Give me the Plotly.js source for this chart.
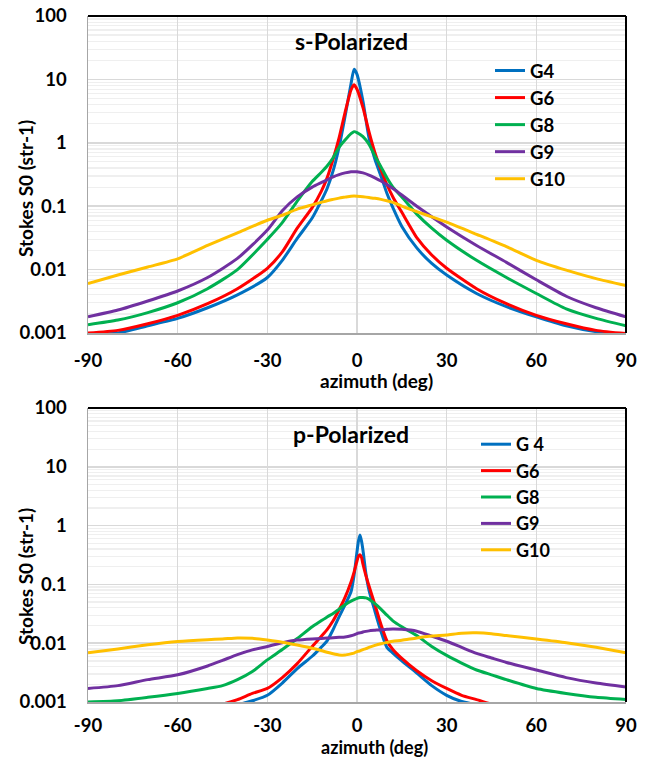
<!DOCTYPE html>
<html>
<head>
<meta charset="utf-8">
<script src="https://cdn.plot.ly/plotly-3.0.1.min.js"></script>
<style>
  html, body { margin: 0; padding: 0; background: #ffffff; }
  #chart { width: 645px; height: 758px; }
</style>
</head>
<body>
<div id="chart"></div>
<script>
// ---------- data: s-polarized (top panel) ----------
const sAzimuth = [-90,-80,-70,-60,-50,-40,-30,-25,-20,-15,-12,-10,-8,-6,-4,-2,-1,0,2,4,6,8,10,12,15,20,25,30,40,50,60,70,80,90];
const sG4  = [0.00095,0.0010,0.0013,0.0017,0.0025,0.0040,0.0075,0.014,0.031,0.065,0.12,0.19,0.36,0.85,2.6,8.5,14.4,12,4.5,1.2,0.55,0.3,0.16,0.095,0.048,0.022,0.0125,0.0082,0.0042,0.0026,0.0018,0.0013,0.00105,0.00095];
const sG6  = [0.001,0.0011,0.0014,0.0019,0.0029,0.0050,0.0105,0.019,0.045,0.095,0.17,0.28,0.55,1.2,3.0,6.8,8.2,7.0,3.6,1.5,0.7,0.38,0.22,0.14,0.08,0.032,0.017,0.0105,0.0050,0.0029,0.0019,0.0014,0.0011,0.00098];
const sG8  = [0.00135,0.0016,0.0021,0.0030,0.0050,0.010,0.030,0.055,0.12,0.245,0.34,0.43,0.58,0.85,1.11,1.4,1.5,1.45,1.25,0.95,0.62,0.42,0.28,0.2,0.14,0.075,0.045,0.029,0.014,0.0075,0.0042,0.0024,0.0017,0.0013];
const sG9  = [0.0018,0.0023,0.0032,0.0046,0.0075,0.015,0.042,0.085,0.14,0.2,0.235,0.26,0.29,0.315,0.335,0.35,0.35,0.35,0.335,0.31,0.28,0.25,0.22,0.19,0.15,0.1,0.068,0.047,0.024,0.013,0.0069,0.0038,0.0025,0.0018];
const sG10 = [0.0060,0.0082,0.011,0.0148,0.024,0.038,0.06,0.072,0.09,0.105,0.115,0.122,0.128,0.134,0.139,0.144,0.145,0.144,0.141,0.137,0.133,0.128,0.122,0.115,0.1,0.082,0.068,0.056,0.036,0.023,0.014,0.0098,0.0072,0.0056];

// ---------- data: p-polarized (bottom panel) ----------
const pAzimuth = [-90,-80,-70,-60,-50,-45,-40,-35,-30,-25,-20,-15,-12,-10,-8,-6,-4,-2,-1,0,0.5,1,1.5,2,3,4,6,8,10,12,15,20,25,30,35,40,45,50,60,70,80,90];
const pG4  = [0.0005,0.0005,0.0005,0.0006,0.0007,0.0008,0.0009,0.00105,0.0013,0.0021,0.0037,0.006,0.0085,0.011,0.017,0.028,0.045,0.075,0.14,0.36,0.55,0.69,0.55,0.38,0.15,0.08,0.035,0.016,0.0085,0.0068,0.005,0.0031,0.0019,0.0013,0.00102,0.0009,0.0008,0.0007,0.0006,0.0005,0.0005,0.0005];
const pG6  = [0.0006,0.0006,0.0006,0.0007,0.0008,0.00092,0.0011,0.0014,0.0017,0.0026,0.0045,0.0088,0.013,0.017,0.024,0.037,0.06,0.11,0.16,0.25,0.3,0.32,0.29,0.22,0.14,0.095,0.045,0.021,0.011,0.0078,0.0055,0.0034,0.0023,0.0017,0.0013,0.0011,0.00092,0.0008,0.0007,0.0006,0.0006,0.0006];
const pG8  = [0.001,0.00105,0.0012,0.0014,0.0017,0.0019,0.0024,0.0033,0.0052,0.0078,0.012,0.019,0.024,0.028,0.032,0.038,0.045,0.052,0.055,0.058,0.059,0.06,0.06,0.06,0.059,0.056,0.047,0.038,0.030,0.024,0.019,0.0135,0.0088,0.0062,0.0046,0.0035,0.0029,0.0024,0.0017,0.0014,0.0012,0.0011];
const pG9  = [0.0017,0.0019,0.0024,0.0029,0.0041,0.0051,0.0064,0.0077,0.0088,0.0102,0.0113,0.0118,0.012,0.0122,0.0124,0.0126,0.0128,0.0134,0.0139,0.0146,0.0149,0.015,0.0152,0.0155,0.0159,0.0162,0.0166,0.017,0.0172,0.0174,0.0172,0.016,0.0132,0.0108,0.0085,0.0067,0.0056,0.0047,0.0035,0.0026,0.0021,0.0018];
const pG10 = [0.0069,0.0080,0.0094,0.0107,0.0115,0.0118,0.0123,0.0121,0.0113,0.0104,0.0093,0.0082,0.0075,0.0070,0.0066,0.0063,0.0063,0.0066,0.0068,0.0072,0.0073,0.0074,0.0076,0.0078,0.0081,0.0085,0.0092,0.0098,0.0103,0.0108,0.0112,0.0123,0.0132,0.0138,0.0148,0.015,0.0145,0.0135,0.0118,0.0102,0.0085,0.0069];

// ---------- labels ----------
const sNames = ["G4","G6","G8","G9","G10"];
const pNames = ["G 4","G6","G8","G9","G10"];
const seriesColors = ["#0070C0","#FF0000","#00B050","#7030A0","#FFC000"];
const xTickVals = [-90,-60,-30,0,30,60,90];
const xTickText = ["-90","-60","-30","0","30","60","90"];
const yTickVals = [0.001,0.01,0.1,1,10,100];
const yTickText = ["0.001","0.01","0.1","1","10","100"];
const panelTitles = ["s-Polarized","p-Polarized"];
const xTitle = "azimuth (deg)";
const yTitle = "Stokes S0 (str-1)";

// minor (2..9) gridline positions for the log axes
const yMinor = [];
for (let e = -3; e < 2; e++) for (let k = 2; k <= 9; k++) yMinor.push(k * Math.pow(10, e));

const FONT = "Lato, 'Open Sans', sans-serif";
const sY = [sG4, sG6, sG8, sG9, sG10];
const pY = [pG4, pG6, pG8, pG9, pG10];

const traces = [];
sY.forEach((ys, i) => traces.push({
  type: "scatter", mode: "lines", x: sAzimuth, y: ys, name: sNames[i],
  xaxis: "x", yaxis: "y", legend: "legend", legendgroup: "s" + i,
  line: { color: seriesColors[i], width: 3, shape: "spline", smoothing: 0.6 }
}));
pY.forEach((ys, i) => traces.push({
  type: "scatter", mode: "lines", x: pAzimuth, y: ys, name: pNames[i],
  xaxis: "x2", yaxis: "y2", legend: "legend2", legendgroup: "p" + i,
  line: { color: seriesColors[i], width: 3, shape: "spline", smoothing: 0.6 }
}));

const W = 645, H = 758;
const xDom = [88 / W, 626 / W];
const topDom = [1 - 333 / H, 1 - 16 / H];
const botDom = [1 - 702 / H, 1 - 408 / H];

const tickFont = { family: FONT, size: 18.5, color: "#000000", weight: 700 };

function xAxis(anchor, standoff) {
  return {
    domain: xDom, anchor: anchor, range: [-90, 90],
    tickmode: "array", tickvals: xTickVals, ticktext: xTickText,
    showgrid: true, gridcolor: "#d9d9d9", gridwidth: 1.5,
    zeroline: false, showline: true, linecolor: "#a6a6a6", linewidth: 1.5,
    ticks: "", ticklabelstandoff: standoff, tickfont: tickFont, fixedrange: true
  };
}
function yAxis(anchor, dom) {
  return {
    domain: dom, anchor: anchor, type: "log", range: [-3, 2],
    tickmode: "array", tickvals: yTickVals, ticktext: yTickText,
    showgrid: true, gridcolor: "#d9d9d9", gridwidth: 1.5,
    minor: { tickmode: "array", tickvals: yMinor, showgrid: true, gridcolor: "#efefef", gridwidth: 1.2, ticks: "" },
    zeroline: false, showline: true, linecolor: "#a6a6a6", linewidth: 1.5,
    ticks: "", ticklabelstandoff: 16, tickfont: tickFont, fixedrange: true
  };
}

const legendCommon = {
  bgcolor: "rgba(0,0,0,0)", borderwidth: 0,
  xanchor: "left", yanchor: "top", traceorder: "normal"
};

const annFont = { family: FONT, size: 19, color: "#000000", weight: 700 };
const annFontSmall = { family: FONT, size: 18, color: "#000000", weight: 700 };
const titleFont = { family: FONT, size: 23, color: "#000000", weight: 700 };
const annotations = [
  { text: panelTitles[0], xref: "paper", yref: "paper", x: 351 / W, y: 1 - 41 / H, showarrow: false, xanchor: "center", yanchor: "middle", font: titleFont },
  { text: panelTitles[1], xref: "paper", yref: "paper", x: 351 / W, y: 1 - 434 / H, showarrow: false, xanchor: "center", yanchor: "middle", font: titleFont },
  { text: xTitle, xref: "paper", yref: "paper", x: 377 / W, y: 1 - 380 / H, showarrow: false, xanchor: "center", yanchor: "middle", font: annFont },
  { text: xTitle, xref: "paper", yref: "paper", x: 374 / W, y: 1 - 746.5 / H, showarrow: false, xanchor: "center", yanchor: "middle", font: annFontSmall },
  { text: yTitle, xref: "paper", yref: "paper", x: 25 / W, y: 1 - 189 / H, showarrow: false, xanchor: "center", yanchor: "middle", textangle: -90, font: annFont },
  { text: yTitle, xref: "paper", yref: "paper", x: 25 / W, y: 1 - 577 / H, showarrow: false, xanchor: "center", yanchor: "middle", textangle: -90, font: annFont }
];

function frame(dom) {
  return [
    { type: "line", xref: "paper", yref: "paper", x0: xDom[0], x1: xDom[1], y0: dom[1], y1: dom[1], line: { color: "#000000", width: 2 }, layer: "above" },
    { type: "line", xref: "paper", yref: "paper", x0: xDom[1], x1: xDom[1], y0: dom[0], y1: dom[1], line: { color: "#000000", width: 2 }, layer: "above" }
  ];
}

const layout = {
  width: W, height: H,
  margin: { l: 0, r: 0, t: 0, b: 0, pad: 0 },
  paper_bgcolor: "#ffffff", plot_bgcolor: "#ffffff",
  showlegend: true,
  xaxis: xAxis("y", 10), yaxis: yAxis("x", topDom),
  xaxis2: xAxis("y2", 6), yaxis2: yAxis("x2", botDom),
  legend: Object.assign({}, legendCommon, {
    x: 490 / W, y: 1 - 52 / H, tracegroupgap: 3,
    font: { family: FONT, size: 18.5, color: "#000000", weight: 700 }
  }),
  legend2: Object.assign({}, legendCommon, {
    x: 476 / W, y: 1 - 426 / H, tracegroupgap: 0,
    font: { family: FONT, size: 18, color: "#000000", weight: 700 }
  }),
  annotations: annotations,
  shapes: frame(topDom).concat(frame(botDom))
};

Plotly.newPlot("chart", traces, layout, { displayModeBar: false, staticPlot: true });
</script>
</body>
</html>
